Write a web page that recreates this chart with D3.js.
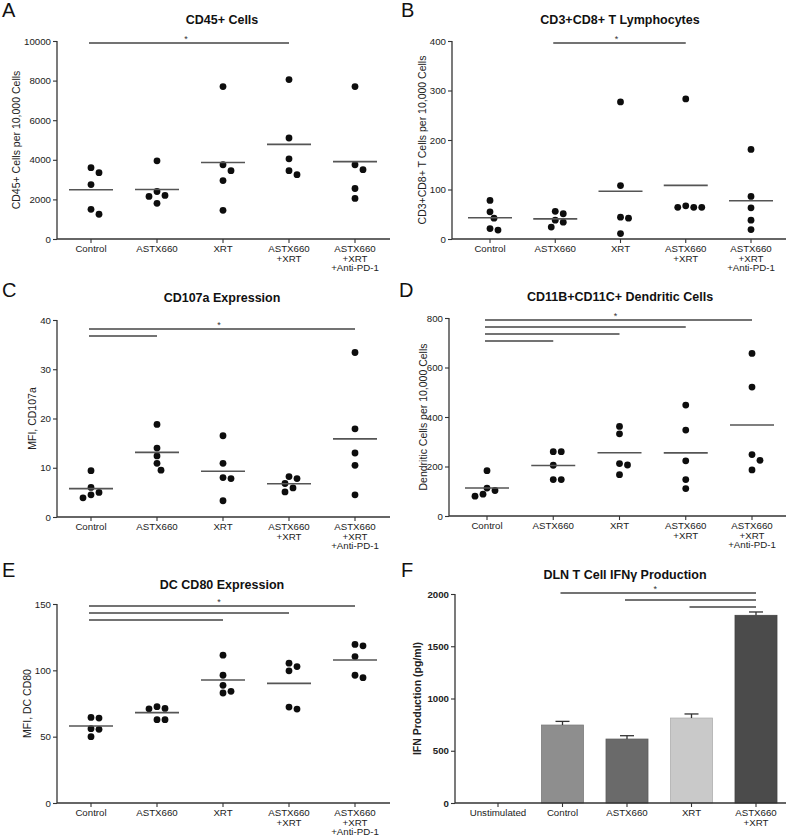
<!DOCTYPE html>
<html><head><meta charset="utf-8">
<script src="https://cdn.jsdelivr.net/npm/d3@7"></script>
<style>body{margin:0;background:#fff}svg{display:block;font-family:Arial,"Liberation Sans",sans-serif}</style>
</head><body><svg id="c" width="800" height="837"></svg>
<script>
// ---------- data ----------
const groups5 = [["Control"],["ASTX660"],["XRT"],["ASTX660","+XRT"],["ASTX660","+XRT","+Anti-PD-1"]];
const groupsF = [["Unstimulated"],["Control"],["ASTX660"],["XRT"],["ASTX660","+XRT"]];

const cd45Values = [[3350,3600,2750,1500,1250],[3950,2400,2200,2150,1800],[7700,3750,3450,2950,1450],[8050,5100,4050,3450,3250],[7700,3750,3500,2550,2050]];
const cd45Ticks = [0,2000,4000,6000,8000,10000];

const cd8Values = [[78,55,42,18,21],[56,51,38,34,24],[277,108,44,42,11],[283,64,64,64,67],[181,86,63,38,19]];
const cd8Ticks = [0,100,200,300,400];

const cd107Values = [[9.4,6.0,5.0,4.5,3.9],[18.8,14.0,12.4,10.9,9.5],[16.5,10.9,8.0,7.8,3.3],[7.8,8.2,6.8,5.9,5.1],[33.4,17.9,13.0,10.5,4.5]];
const cd107Ticks = [0,10,20,30,40];

const dcValues = [[183,113,103,88,80],[260,260,205,147,147],[362,332,212,206,167],[448,347,223,147,111],[657,521,248,225,186]];
const dcTicks = [0,200,400,600,800];

const cd80Values = [[64,64.5,56,55.5,50],[71.3,71,72.6,62.8,62.8],[111.4,96.3,88.7,82.9,84.2],[102.8,99.6,105.4,70.8,72.3],[118.5,119.5,110.4,94.5,96.3]];
const cd80Ticks = [0,50,100,150];

const ifnMeans = [0,746,612,813,1796];
const ifnErr = [0,35,32,39,32];
const ifnTicks = [0,500,1000,1500,2000];
const ifnColors = ["#888","#8e8e8e","#6a6a6a","#c9c9c9","#4b4b4b"];

const sigA = [[0,3]], sigB = [[1,3]], sigC = [[0,4],[0,1]], sigD = [[0,4],[0,3],[0,2],[0,1]], sigE = [[0,4],[0,3],[0,2]], sigF = [[1,4],[2,4],[3,4]];

// ---------- drawing ----------
const svg = d3.select("#c");
const AX = "#333";

function panel(cfg) {
  const L = cfg.layout;
  const g = svg.append("g");
  const y = d3.scaleLinear().domain([0, d3.max(cfg.ticks)]).range([L.yBot, L.yTop]);
  const x = d3.scalePoint().domain(d3.range(cfg.groups.length)).range([L.c0, L.c1]);

  g.append("text").attr("x", L.lx).attr("y", L.ly).attr("font-size", 20).attr("fill", "#111").text(cfg.letter);
  g.append("text").attr("x", L.tx).attr("y", L.ty).attr("text-anchor", "middle").attr("font-size", 12.5).attr("font-weight", "bold").attr("fill", "#111").text(cfg.title);

  const ya = g.append("g").attr("transform", `translate(${L.x0},0)`).call(d3.axisLeft(y).tickValues(cfg.ticks).tickSize(4).tickPadding(2).tickFormat(d3.format("d")));
  ya.select(".domain").attr("stroke", AX).attr("stroke-width", 1.3).attr("d", `M0,${L.yTop}V${L.yBot}`);
  ya.selectAll(".tick line").attr("stroke", AX).attr("stroke-width", 1.1);
  ya.selectAll(".tick text").attr("font-size", 9.7).attr("fill", "#222").attr("font-family", "Arial,'Liberation Sans',sans-serif").attr("font-weight", cfg.boldTicks ? "bold" : "normal");

  g.append("line").attr("x1", L.x0).attr("x2", L.xEnd).attr("y1", L.yBot).attr("y2", L.yBot).attr("stroke", AX).attr("stroke-width", 1.3);
  cfg.groups.forEach((lines, i) => {
    g.append("line").attr("x1", x(i)).attr("x2", x(i)).attr("y1", L.yBot).attr("y2", L.yBot + 4).attr("stroke", AX).attr("stroke-width", 1.1);
    const t = g.append("text").attr("text-anchor", "middle").attr("font-size", 9.7).attr("fill", "#222");
    lines.forEach((s, k) => t.append("tspan").attr("x", x(i)).attr("y", L.yBot + 13 + k * 9.6).text(s));
  });

  g.append("text").attr("transform", `translate(${L.ylx},${(L.yTop + L.yBot) / 2}) rotate(-90)`).attr("text-anchor", "middle")
    .attr("font-size", 10.5).attr("fill", "#222").attr("font-weight", cfg.boldTicks ? "bold" : "normal").text(cfg.ylabel);

  cfg.sig.forEach((s, k) => {
    const yy = L.sigTop + k * 7;
    g.append("line").attr("x1", x(s[0]) - 2).attr("x2", x(s[1])).attr("y1", yy).attr("y2", yy).attr("stroke", "#444").attr("stroke-width", 1.4);
  });
  const top = cfg.sig[0];
  g.append("text").attr("x", (x(top[0]) + x(top[1])) / 2 - 4).attr("y", L.sigTop - 1).attr("text-anchor", "middle").attr("font-size", 9).attr("fill", "#333").text("*");

  return {g, x, y};
}

function scatterPanel(cfg) {
  const {g, x, y} = panel(cfg);
  const step = 4, minDist = 7.2, cands = [0, 4, -4, 8, -8, 12, -12, 16, -16];
  cfg.values.forEach((vals, i) => {
    const sorted = vals.slice().sort((a, b) => b - a);
    const placed = [];
    sorted.forEach(v => {
      const py = y(v);
      let off = cands.find(c => placed.every(p => Math.hypot(p[0] - c, p[1] - py) >= minDist));
      if (off === undefined) off = 0;
      placed.push([off, py]);
      g.append("circle").attr("cx", x(i) + off).attr("cy", py).attr("r", 3.4).attr("fill", "#0d0d0d");
    });
    const m = d3.mean(vals);
    g.append("line").attr("x1", x(i) - 22).attr("x2", x(i) + 22).attr("y1", y(m)).attr("y2", y(m)).attr("stroke", "#555").attr("stroke-width", 1.6);
  });
}

function barPanel(cfg) {
  const {g, x, y} = panel(cfg);
  const bw = 42;
  cfg.means.forEach((v, i) => {
    if (v <= 0) return;
    g.insert("rect", ":first-child").attr("x", x(i) - bw / 2).attr("y", y(v)).attr("width", bw).attr("height", y(0) - y(v))
      .attr("fill", cfg.colors[i]).attr("stroke", d3.color(cfg.colors[i]).darker(0.4)).attr("stroke-width", 0.8);
    const e = cfg.err[i];
    g.append("line").attr("x1", x(i)).attr("x2", x(i)).attr("y1", y(v)).attr("y2", y(v + e)).attr("stroke", "#333").attr("stroke-width", 1.3);
    g.append("line").attr("x1", x(i) - 7).attr("x2", x(i) + 7).attr("y1", y(v + e)).attr("y2", y(v + e)).attr("stroke", "#333").attr("stroke-width", 1.3);
  });
}

scatterPanel({letter:"A", title:"CD45+ Cells", ylabel:"CD45+ Cells per 10,000 Cells", groups:groups5, values:cd45Values, ticks:cd45Ticks, sig:sigA,
  layout:{x0:57, xEnd:390, yTop:41, yBot:239, c0:91, c1:355, ylx:20, sigTop:43, lx:2, ly:17, tx:222, ty:24}});
scatterPanel({letter:"B", title:"CD3+CD8+ T Lymphocytes", ylabel:"CD3+CD8+ T Cells per 10,000 Cells", groups:groups5, values:cd8Values, ticks:cd8Ticks, sig:sigB,
  layout:{x0:452, xEnd:786, yTop:41, yBot:239, c0:490, c1:751, ylx:426, sigTop:43, lx:401, ly:17, tx:620, ty:24}});
scatterPanel({letter:"C", title:"CD107a Expression", ylabel:"MFI,  CD107a", groups:groups5, values:cd107Values, ticks:cd107Ticks, sig:sigC,
  layout:{x0:57, xEnd:390, yTop:320, yBot:517, c0:91, c1:355, ylx:36, sigTop:329, lx:2, ly:297, tx:222, ty:302}});
scatterPanel({letter:"D", title:"CD11B+CD11C+ Dendritic Cells", ylabel:"Dendritic Cells per 10,000 Cells", groups:groups5, values:dcValues, ticks:dcTicks, sig:sigD,
  layout:{x0:449, xEnd:786, yTop:318, yBot:516, c0:487, c1:752, ylx:427, sigTop:320, lx:399, ly:297, tx:620, ty:301}});
scatterPanel({letter:"E", title:"DC CD80 Expression", ylabel:"MFI, DC CD80", groups:groups5, values:cd80Values, ticks:cd80Ticks, sig:sigE,
  layout:{x0:57, xEnd:390, yTop:604, yBot:803, c0:91, c1:355, ylx:31, sigTop:606, lx:2, ly:577, tx:222, ty:589}});
barPanel({letter:"F", title:"DLN T Cell IFNγ Production", ylabel:"IFN Production (pg/ml)", groups:groupsF, means:ifnMeans, err:ifnErr, colors:ifnColors, ticks:ifnTicks, sig:sigF, boldTicks:true,
  layout:{x0:455, xEnd:786, yTop:594, yBot:803, c0:498, c1:756, ylx:421, sigTop:593, lx:401, ly:577, tx:625, ty:579}});
</script></body></html>
